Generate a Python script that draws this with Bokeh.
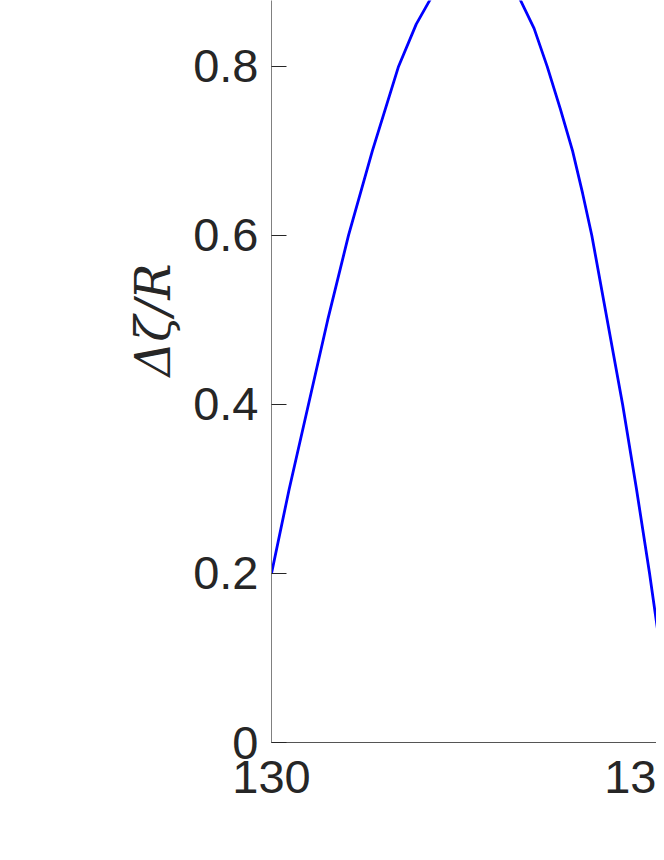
from bokeh.plotting import figure
from bokeh.models import Range1d, FixedTicker, Title
from bokeh.embed import file_html
from bokeh.resources import INLINE

# curve (x in the axis units, y = delta zeta / R)
x_vals = [130.000, 130.023, 130.048, 130.073, 130.100, 130.131, 130.165, 130.188,
          130.206, 130.235, 130.264, 130.292, 130.323, 130.341, 130.358, 130.375,
          130.391, 130.404, 130.416, 130.436, 130.456, 130.474, 130.491, 130.505,
          130.510]
y_vals = [0.200, 0.300, 0.400, 0.500, 0.600, 0.700, 0.800, 0.850,
          0.879, 0.912, 0.925, 0.913, 0.879, 0.845, 0.800, 0.750,
          0.700, 0.650, 0.600, 0.500, 0.400, 0.300, 0.200, 0.110,
          0.077]

# the second x tick label is cut off at the edge of the reference picture
x_ticks = [130, 130.5]
x_tick_labels = ["130", "13"]
y_ticks = [0, 0.2, 0.4, 0.6, 0.8]
y_tick_labels = ["0", "0.2", "0.4", "0.6", "0.8"]
y_label = "Δζ/R"

p = figure(width=656, height=844, output_backend="svg", toolbar_location=None,
           title=None,
           x_range=Range1d(130, 130.5), y_range=Range1d(0, 0.878),
           min_border_left=271, min_border_right=0, min_border_top=0,
           min_border_bottom=102)

p.line(x_vals, y_vals, line_color="#0000ff", line_width=2.8)

p.outline_line_color = None
p.grid.visible = False
p.background_fill_color = "white"
p.border_fill_color = "white"

tick_font = "Liberation Sans"
for ax in (p.xaxis[0], p.yaxis[0]):
    ax.major_tick_in = 15
    ax.major_tick_out = 0
    ax.minor_tick_in = 0
    ax.minor_tick_out = 0
    ax.major_tick_line_color = "#262626"
    ax.major_tick_line_width = 1
    ax.major_label_text_font = tick_font
    ax.major_label_text_font_size = "47px"
    ax.major_label_text_color = "#262626"

p.xaxis[0].ticker = FixedTicker(ticks=x_ticks)
p.xaxis[0].major_label_overrides = {t: l for t, l in zip(x_ticks, x_tick_labels)}
p.xaxis[0].axis_line_color = "#555555"
p.xaxis[0].major_label_standoff = 18

p.yaxis[0].ticker = FixedTicker(ticks=y_ticks)
p.yaxis[0].major_label_overrides = {t: l for t, l in zip(y_ticks, y_tick_labels)}
p.yaxis[0].axis_line_color = "#808080"
p.yaxis[0].major_label_standoff = 13

lab = Title(text=y_label, align="left", offset=366, standoff=20,
            text_font="DejaVu Serif", text_font_style="italic",
            text_font_size="48px", text_color="#262626")
p.add_layout(lab, "left")

open("out.html", "w").write(file_html(p, INLINE))
